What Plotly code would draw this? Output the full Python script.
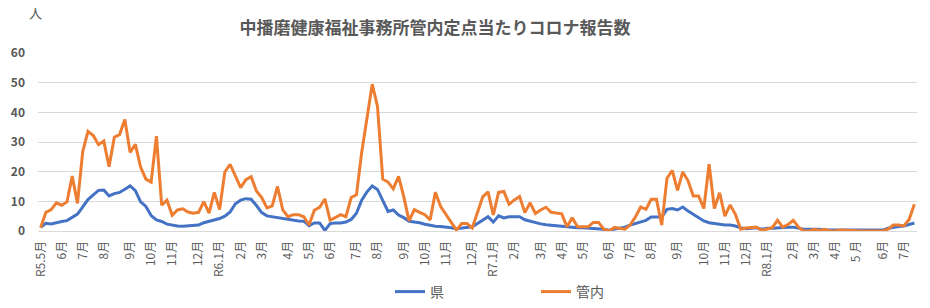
import plotly.graph_objects as go

# weekly data (index = week number from R5.5月)
kannai = [1.1, 6.3, 7.2, 9.5, 8.7, 9.8, 18.5, 9.3, 26.8, 33.6,
          32.2, 29.1, 30.3, 21.7, 31.6, 32.5, 37.6, 26.5, 29.2, 21.5,
          17.5, 16.5, 32.0, 8.7, 10.4, 5.3, 7.1, 7.5, 6.4, 6.0,
          6.3, 9.9, 6.0, 13.0, 7.2, 19.9, 22.5, 18.5, 14.6, 17.3,
          18.3, 13.5, 11.3, 7.8, 8.5, 15.0, 7.1, 4.8, 5.5, 5.5,
          4.8, 2.0, 7.0, 8.0, 10.8, 3.6, 4.7, 5.5, 4.8, 11.3,
          12.2, 26.5, 38.0, 49.5, 42.0, 17.5, 16.5, 14.2, 18.4, 11.5,
          3.4, 7.2, 6.3, 5.5, 3.7, 13.1, 8.2, 5.5, 3.0, 0.3,
          2.5, 2.5, 1.0, 6.0, 11.5, 13.2, 5.4, 13.0, 13.3, 9.0,
          10.5, 11.6, 6.2, 9.5, 5.9, 7.1, 8.0, 6.3, 6.1, 5.8,
          1.4, 4.5, 1.4, 1.4, 1.4, 2.9, 2.9, 0.6, 0.0, 1.2,
          0.8, 0.6, 2.0, 4.7, 8.1, 7.3, 10.7, 10.7, 2.0, 17.8,
          20.4, 13.7, 19.9, 16.9, 11.8, 11.8, 7.6, 22.5, 7.6, 12.9,
          5.0, 8.8, 5.6, 0.6, 1.0, 1.1, 1.3, 0.2, 0.6, 1.1,
          3.6, 1.3, 2.2, 3.6, 1.3, 0.0, 0.0, 0.6, 0.2, 0.6,
          0.0, 0.0, 0.3, 0.2, 0.0, 0.0, 0.0, 0.0, 0.0, 0.0,
          0.0, 0.6, 2.0, 2.0, 1.7, 3.9, 9.0]

ken = [1.2, 2.6, 2.4, 2.9, 3.2, 3.5, 4.6, 5.7, 8.1, 10.6,
       12.2, 13.7, 13.8, 11.8, 12.6, 13.0, 14.1, 15.2, 13.6, 9.8,
       8.3, 5.2, 3.7, 3.2, 2.3, 1.9, 1.7, 1.6, 1.7, 1.9,
       2.0, 2.8, 3.3, 3.6, 4.2, 5.0, 6.4, 9.2, 10.4, 10.9,
       10.7, 8.6, 6.2, 5.1, 4.8, 4.6, 4.4, 4.1, 3.7, 3.4,
       3.3, 1.8, 2.7, 2.7, 0.2, 2.5, 2.7, 2.7, 3.0, 3.9,
       6.0, 10.4, 13.2, 15.2, 14.0, 10.2, 6.6, 7.1, 5.4, 4.5,
       3.3, 3.0, 2.8, 2.3, 1.9, 1.6, 1.5, 1.4, 1.1, 0.8,
       1.0, 1.2, 1.4, 2.5, 3.8, 4.8, 3.0, 5.1, 4.4, 4.8,
       4.8, 4.8, 3.8, 3.3, 2.7, 2.4, 2.1, 1.9, 1.7, 1.5,
       1.3, 1.2, 1.1, 1.1, 1.0, 0.9, 0.9, 0.6, 0.3, 0.6,
       0.9, 1.3, 2.0, 2.5, 3.1, 3.6, 4.7, 4.7, 4.7, 7.3,
       7.6, 7.1, 8.1, 6.7, 5.6, 4.3, 3.4, 2.8, 2.5, 2.2,
       2.0, 2.0, 1.7, 1.1, 0.8, 0.9, 1.1, 0.6, 0.9, 0.9,
       1.1, 1.3, 1.3, 1.3, 0.9, 0.6, 0.6, 0.6, 0.6, 0.3,
       0.3, 0.2, 0.2, 0.2, 0.2, 0.2, 0.2, 0.2, 0.2, 0.2,
       0.3, 0.9, 1.3, 1.5, 1.7, 2.2, 2.7]

weeks = list(range(len(kannai)))

tick_weeks = [0, 4, 8, 12, 17, 21, 25, 30, 34, 38, 42, 47, 51, 55, 60, 64, 69, 73, 77, 82,
              86, 90, 95, 99, 103, 108, 112, 116, 121, 126, 130, 134, 138, 143, 147, 151,
              155, 160, 164]
tick_labels = ["R5.5月", "6月", "7月", "8月", "9月", "10月", "11月", "12月",
               "R6.1月", "2月", "3月", "4月", "5月", "6月", "7月", "8月", "9月", "10月", "11月", "12月",
               "R7.1月", "2月", "3月", "4月", "5月", "6月", "7月", "8月", "9月", "10月", "11月", "12月",
               "R8.1月", "2月", "3月", "4月", "5 月", "6月", "7月"]

FONT = "Noto Sans CJK JP"
GRAY = "#595959"

fig = go.Figure()
fig.add_trace(go.Scatter(x=weeks, y=ken, mode="lines", name="県", showlegend=True,
                         line=dict(color="#4472C4", width=3), legend="legend"))
fig.add_trace(go.Scatter(x=weeks, y=kannai, mode="lines", name="管内", showlegend=True,
                         line=dict(color="#ED7D31", width=3), legend="legend2"))

L, R, T, B = 38, 13, 53, 77
W, H = 930, 308
pw, ph = W - L - R, H - T - B

fig.update_layout(
    width=W, height=H,
    margin=dict(l=L, r=R, t=T, b=B, pad=0, autoexpand=False),
    showlegend=True,
    paper_bgcolor="white", plot_bgcolor="white",
    font=dict(family=FONT, color=GRAY, size=11),
    title=dict(text="<b>中播磨健康福祉事務所管内定点当たりコロナ報告数</b>",
               x=435 / W, xref="container", xanchor="center",
               y=1 - 28 / H, yref="container", yanchor="middle",
               font=dict(family=FONT, size=17, color=GRAY)),
    xaxis=dict(range=[-0.5, len(weeks) - 0.5], tickmode="array",
               tickvals=tick_weeks, ticktext=tick_labels, tickangle=-90,
               showgrid=False, zeroline=False, showline=True, linecolor="#d9d9d9",
               ticks="", automargin=False, ticklabelstandoff=4,
               tickfont=dict(family=FONT, size=12, color=GRAY)),
    yaxis=dict(range=[0, 60], dtick=10, showgrid=True, gridcolor="#d9d9d9",
               gridwidth=1, zeroline=False, ticks="", ticklabelstandoff=12,
               automargin=False,
               tickfont=dict(family=FONT, size=12, color=GRAY, weight="bold")),
    legend=dict(orientation="h", xref="container", yref="container",
                x=390 / W, y=1 - 292 / H, xanchor="left",
                yanchor="middle", font=dict(family=FONT, size=14, color=GRAY),
                bgcolor="rgba(0,0,0,0)"),
    legend2=dict(orientation="h", xref="container", yref="container",
                 x=536 / W, y=1 - 292 / H, xanchor="left",
                 yanchor="middle", font=dict(family=FONT, size=14, color=GRAY),
                 bgcolor="rgba(0,0,0,0)"),
    annotations=[dict(text="人", xref="paper", yref="paper",
                      x=(35 - L) / pw, y=(H - B - 13) / ph,
                      xanchor="center", yanchor="middle", showarrow=False,
                      font=dict(family=FONT, size=13, color=GRAY))],
)

fig.write_html("out.html")
